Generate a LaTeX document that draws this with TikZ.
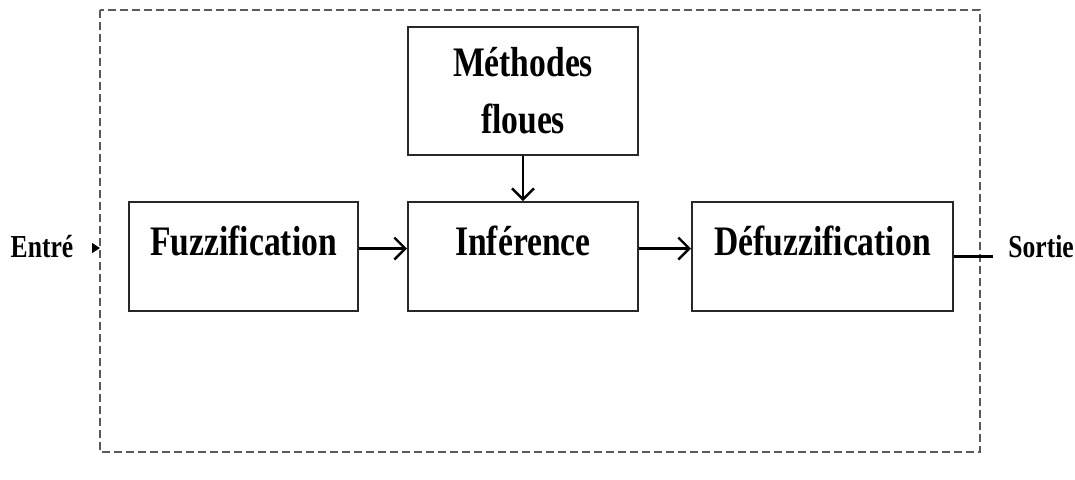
\documentclass[tikz,border=0pt]{standalone}
\usepackage{fontspec}
\setmainfont{Liberation Serif}[FakeStretch=0.8]
\usepackage{tikz}
\usetikzlibrary{
	positioning,
	calc,
	arrows.meta
}
\definecolor{BoxGray}{RGB}{40,40,40}
\definecolor{FrameGray}{RGB}{90,90,90}

\begin{document}
\begin{tikzpicture}[
	x=0.5pt,
	y=-0.5pt,
	blockbox/.style={
		draw=BoxGray,
		line width=1pt,
		inner sep=0pt,
		minimum width=115pt,
		font=\fontsize{21}{28.5}\selectfont\bfseries
	},
	flowarrow/.style={
		-{Straight Barb[length=5.5pt,width=11pt]},
		line width=1.2pt
	},
	sidetext/.style={
		inner sep=0pt,
		font=\fontsize{16}{19}\selectfont\bfseries
	}
	]
	
	\useasboundingbox (0,0) rectangle (1075,479);
	
	% outer dashed frame
	\draw[
	FrameGray,
	dashed,
	dash pattern=on 4pt off 2pt,
	line width=0.9pt
	]
	(100,10) rectangle (980,452);
	
	\node[
	blockbox,
	text height=26.5pt,
	text depth=28pt,
	minimum width=114.5pt
	]
	(FUZZ)
	at (243.5,256.5)
	{Fuzzification};
	
	\node[
	blockbox,
	text height=26.5pt,
	text depth=28pt,
	right=24pt of FUZZ
	]
	(INF)
	{Inférence};
	
	\node[
	blockbox,
	text height=26.5pt,
	text depth=28pt,
	minimum width=130.5pt,
	right=26pt of INF
	]
	(DEFUZZ)
	{Défuzzification};
	
	\node[
	blockbox,
	align=center,
	minimum height=64pt,
	above=22.5pt of INF
	]
	(METH)
	{Méthodes\\floues};
	
	\node[
	sidetext,
	anchor=base
	]
	(ENTRE)
	at (42,257)
	{Entré};
	
	\node[
	sidetext,
	anchor=base west
	]
	(SORTIE)
	at (1008,257)
	{Sortie};
	
	\coordinate (INtail) at (93,248);
	\coordinate (INhead) at (100,248);
	\coordinate (OUTend) at ([xshift=19.5pt]DEFUZZ.east);
	
	\draw[
	-{Triangle[length=4pt,width=5pt]},
	line width=0.6pt
	]
	(INtail) -- (INhead);
	
	\draw[
	flowarrow
	]
	([yshift=4pt]FUZZ.east) -- ([yshift=4pt]INF.west);
	
	\draw[
	flowarrow
	]
	([yshift=4pt]INF.east) -- ([yshift=4pt]DEFUZZ.west);
	
	\draw[
	flowarrow
	]
	(METH.south) -- (INF.north);
	
	\draw[
	line width=1.1pt
	]
	(DEFUZZ.east) -- (OUTend);
	
\end{tikzpicture}
\end{document}
